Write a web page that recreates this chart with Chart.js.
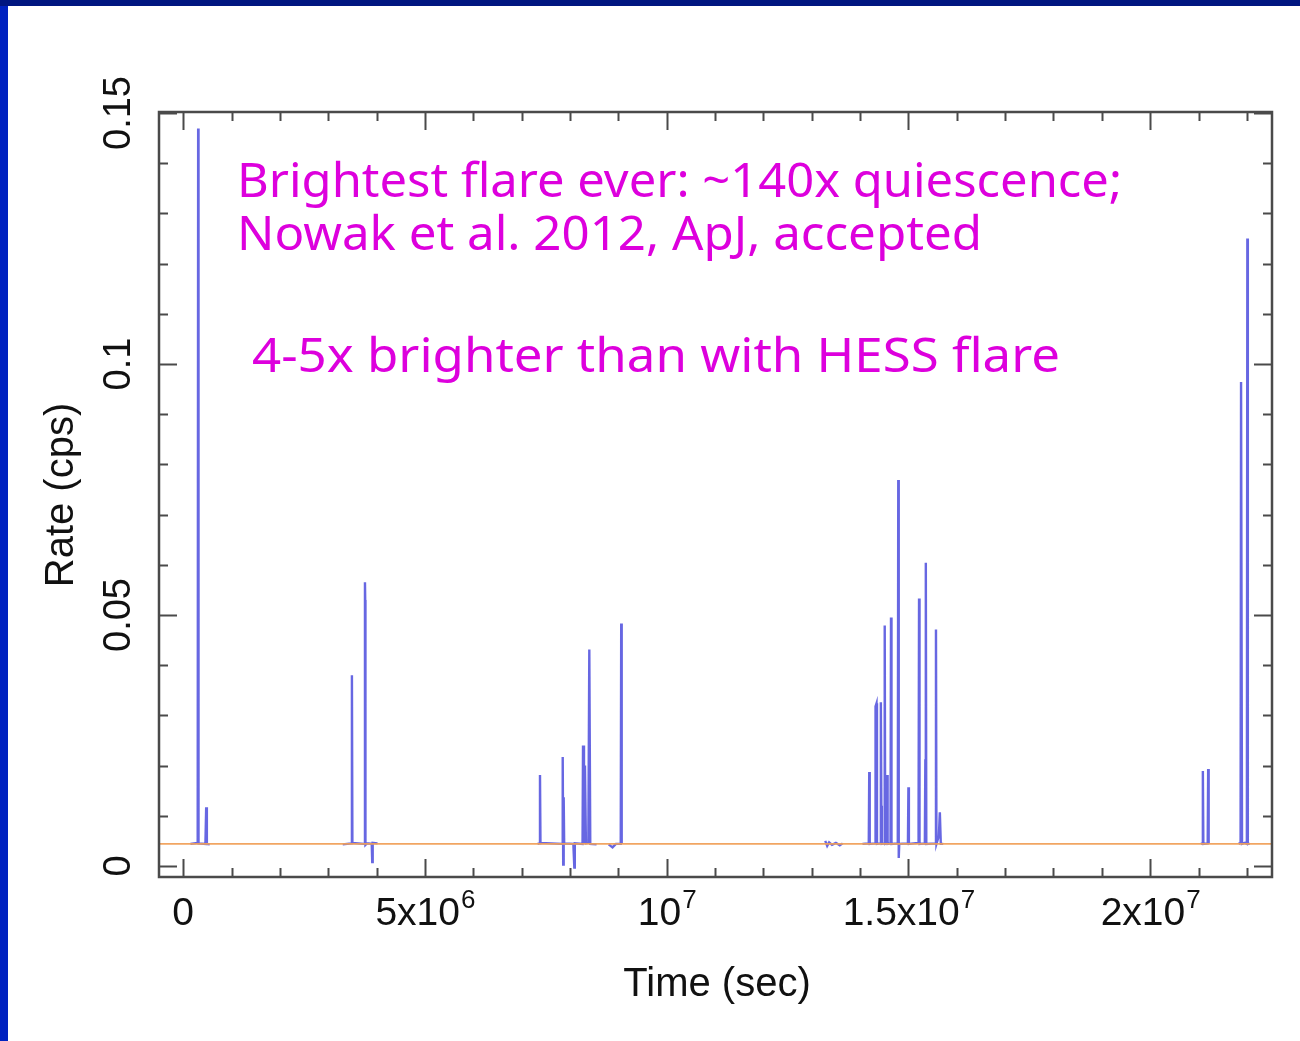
<!DOCTYPE html>
<html>
<head>
<meta charset="utf-8">
<script src="https://cdn.jsdelivr.net/npm/chart.js@4.4.0/dist/chart.umd.min.js"></script>
<style>
  html, body { margin: 0; padding: 0; background: #fff; }
  #wrap { position: relative; width: 1300px; height: 1041px; overflow: hidden; background: #fff; }
  #lightCurve { position: absolute; left: 0; top: 0; }
  .band-left { position: absolute; left: 0; top: 0; width: 8px; height: 1041px; background: #0022c0; }
  .band-top { position: absolute; left: 0; top: 0; width: 1300px; height: 6px; background: #001680; }
</style>
</head>
<body>
<div id="wrap">
  <canvas id="lightCurve" width="1300" height="1041"></canvas>
  <div class="band-left"></div>
  <div class="band-top"></div>
</div>
<script>
// Light curve (time in sec, rate in cps); null rate = gap between observations
const lcTime = [
    0.15e6, 0.30e6, 0.31e6, 0.315e6, 0.32e6, 0.46e6, 0.476e6, 0.49e6, 0.55e6,
    2.0e6,
    3.30e6, 3.48e6, 3.49e6, 3.50e6, 3.74e6, 3.76e6, 3.765e6, 3.77e6, 3.80e6, 3.90e6, 3.91e6, 3.92e6, 4.02e6,
    6.0e6,
    7.33e6, 7.37e6, 7.38e6, 7.39e6, 7.84e6, 7.85e6, 7.86e6, 7.87e6, 7.88e6, 8.07e6, 8.09e6, 8.10e6,
    8.26e6, 8.27e6, 8.29e6, 8.31e6, 8.33e6, 8.38e6, 8.40e6, 8.42e6, 8.55e6,
    8.7e6,
    8.80e6, 8.88e6, 8.95e6, 9.05e6, 9.06e6, 9.07e6,
    11.0e6,
    13.28e6, 13.32e6, 13.36e6, 13.42e6, 13.50e6, 13.58e6, 13.64e6,
    13.9e6,
    14.05e6, 14.18e6, 14.19e6, 14.20e6, 14.31e6, 14.32e6, 14.34e6, 14.35e6, 14.42e6, 14.43e6, 14.44e6, 14.45e6,
    14.50e6, 14.51e6, 14.52e6, 14.55e6, 14.56e6, 14.57e6, 14.63e6, 14.64e6, 14.65e6,
    14.78e6, 14.79e6, 14.80e6, 14.81e6, 14.99e6, 15.00e6, 15.01e6,
    15.20e6, 15.21e6, 15.22e6, 15.23e6, 15.34e6, 15.35e6, 15.36e6, 15.37e6,
    15.56e6, 15.57e6, 15.58e6, 15.63e6, 15.65e6, 15.67e6, 15.72e6,
    18.0e6,
    21.05e6, 21.08e6, 21.09e6, 21.10e6, 21.19e6, 21.20e6, 21.21e6,
    21.5e6,
    21.83e6, 21.87e6, 21.88e6, 21.90e6, 21.96e6, 22.00e6, 22.01e6, 22.02e6, 22.06e6
];
const lcRate = [
    0.0044, 0.0046, 0.1469, 0.0161, 0.0045, 0.0044, 0.0117, 0.0044, 0.0043,
    null,
    0.0043, 0.0045, 0.0380, 0.0046, 0.0044, 0.0565, 0.0530, 0.0042, 0.0045, 0.0044, 0.0008, 0.0046, 0.0045,
    null,
    0.0044, 0.0045, 0.0181, 0.0046, 0.0044, 0.0217, 0.0003, 0.0137, 0.0045, 0.0044, -0.0003, 0.0045,
    0.0044, 0.0240, 0.0045, 0.0200, 0.0045, 0.0046, 0.0431, 0.0044, 0.0043,
    null,
    0.0043, 0.0037, 0.0044, 0.0044, 0.0483, 0.0044,
    null,
    0.0050, 0.0040, 0.0047, 0.0042, 0.0046, 0.0041, 0.0045,
    null,
    0.0044, 0.0045, 0.0187, 0.0044, 0.0045, 0.0318, 0.0324, 0.0044, 0.0045, 0.0326, 0.0120, 0.0044,
    0.0045, 0.0479, 0.0044, 0.0045, 0.0181, 0.0044, 0.0045, 0.0495, 0.0044,
    0.0045, 0.0769, 0.0016, 0.0044, 0.0045, 0.0157, 0.0044,
    0.0046, 0.0100, 0.0533, 0.0044, 0.0045, 0.0210, 0.0604, 0.0044,
    0.0045, 0.0471, 0.0044, 0.0060, 0.0107, 0.0044, 0.0044,
    null,
    0.0044, 0.0045, 0.0189, 0.0044, 0.0045, 0.0193, 0.0044,
    null,
    0.0044, 0.0046, 0.0964, 0.0044, 0.0046, 0.0044, 0.1250, 0.0044, 0.0044
];

// Quiescent level
const quiescentRate = 0.0044;

// Axes
const xRange = [-0.5e6, 22.52e6];
const yRange = [-0.0022, 0.1502];
const xMajorTicks = [0, 5e6, 1e7, 1.5e7, 2e7];
const xTickBase = ['0', '5x10', '10', '1.5x10', '2x10'];
const xTickExp = ['', '6', '7', '7', '7'];
const xMinorStep = 1e6;
const yMajorTicks = [0, 0.05, 0.1, 0.15];
const yTickLabels = ['0', '0.05', '0.1', '0.15'];
const yMinorStep = 0.01;

const noteLines = [
    'Brightest flare ever: ~140x quiescence;',
    'Nowak et al. 2012, ApJ, accepted',
    '4-5x brighter than with HESS flare'
];

// Draw text stretched or squeezed to a given width
function fitText(ctx, text, x, y, width) {
    const w = ctx.measureText(text).width;
    ctx.save();
    ctx.translate(x, y);
    ctx.scale(width / w, 1);
    ctx.fillText(text, 0, 0);
    ctx.restore();
}

// Frame, inward ticks, labels and notes
const framePlugin = {
    id: 'frame',
    afterDraw(chart) {
        const ctx = chart.ctx;
        const area = chart.chartArea;
        const xs = chart.scales.x;
        const ys = chart.scales.y;

        ctx.save();
        ctx.strokeStyle = '#4a4a4a';
        ctx.lineWidth = 2.5;
        ctx.strokeRect(area.left, area.top, area.right - area.left, area.bottom - area.top);

        // ticks
        ctx.lineWidth = 2;
        ctx.beginPath();
        for (let i = 0; i * xMinorStep <= xRange[1]; i++) {
            const v = i * xMinorStep;
            const px = Math.round(xs.getPixelForValue(v)) + 0.5;
            const len = xMajorTicks.includes(v) ? 18 : 9;
            ctx.moveTo(px, area.bottom); ctx.lineTo(px, area.bottom - len);
            ctx.moveTo(px, area.top); ctx.lineTo(px, area.top + len);
        }
        for (let i = 0; i * yMinorStep <= yRange[1]; i++) {
            const v = i * yMinorStep;
            const py = Math.round(ys.getPixelForValue(v)) + 0.5;
            const len = (i % 5 === 0) ? 18 : 9;
            ctx.moveTo(area.left, py); ctx.lineTo(area.left + len, py);
            ctx.moveTo(area.right, py); ctx.lineTo(area.right - len, py);
        }
        ctx.stroke();

        ctx.fillStyle = '#111';

        // x tick labels with exponents
        xMajorTicks.forEach((v, i) => {
            const px = xs.getPixelForValue(v);
            ctx.font = '39px "Liberation Sans", Arial, sans-serif';
            const wBase = ctx.measureText(xTickBase[i]).width;
            ctx.font = '26px "Liberation Sans", Arial, sans-serif';
            const wExp = ctx.measureText(xTickExp[i]).width;
            const x0 = px - (wBase + wExp) / 2;
            ctx.textAlign = 'left';
            ctx.textBaseline = 'alphabetic';
            ctx.font = '39px "Liberation Sans", Arial, sans-serif';
            ctx.fillText(xTickBase[i], x0, 925);
            ctx.font = '26px "Liberation Sans", Arial, sans-serif';
            ctx.fillText(xTickExp[i], x0 + wBase + 1, 908);
        });

        // y tick labels, rotated
        ctx.font = '38px "Liberation Sans", Arial, sans-serif';
        ctx.textAlign = 'center';
        ctx.textBaseline = 'middle';
        yMajorTicks.forEach((v, i) => {
            const py = ys.getPixelForValue(v);
            ctx.save();
            ctx.translate(120, py);
            ctx.rotate(-Math.PI / 2);
            ctx.fillText(yTickLabels[i], 0, 0);
            ctx.restore();
        });

        // axis titles
        ctx.font = '40px "Liberation Sans", Arial, sans-serif';
        ctx.fillText('Time (sec)', 717, 985, 198);
        ctx.save();
        ctx.translate(62, 495);
        ctx.rotate(-Math.PI / 2);
        ctx.fillText('Rate (cps)', 0, 0, 192);
        ctx.restore();

        // notes
        ctx.fillStyle = '#dd00dd';
        ctx.textAlign = 'left';
        ctx.textBaseline = 'alphabetic';
        ctx.font = '47px "Noto Sans", sans-serif';
        fitText(ctx, noteLines[0], 237, 197, 885);
        fitText(ctx, noteLines[1], 237, 250, 745);
        fitText(ctx, noteLines[2], 252, 372, 808);
        ctx.restore();
    }
};

function setupChart() {
    const ctx = document.getElementById('lightCurve');
    const curve = lcTime.map((t, i) => ({ x: t, y: lcRate[i] }));
    const quiescence = xRange.map(t => ({ x: t, y: quiescentRate }));

    new Chart(ctx, {
        type: 'line',
        data: {
            datasets: [{
                label: 'Quiescence',
                data: quiescence,
                borderColor: 'rgba(240, 160, 90, 0.95)',
                borderWidth: 1.6,
                pointRadius: 0
            }, {
                label: 'Rate',
                data: curve,
                borderColor: 'rgba(45, 45, 215, 0.72)',
                borderWidth: 2.4,
                pointRadius: 0,
                tension: 0,
                spanGaps: false
            }]
        },
        options: {
            responsive: false,
            animation: false,
            layout: { padding: { left: 159, top: 112, right: 28, bottom: 164 } },
            scales: {
                x: { type: 'linear', min: xRange[0], max: xRange[1], display: false },
                y: { type: 'linear', min: yRange[0], max: yRange[1], display: false }
            },
            plugins: {
                legend: { display: false },
                tooltip: { enabled: false }
            }
        },
        plugins: [framePlugin]
    });
}

setupChart();
</script>
</body>
</html>
